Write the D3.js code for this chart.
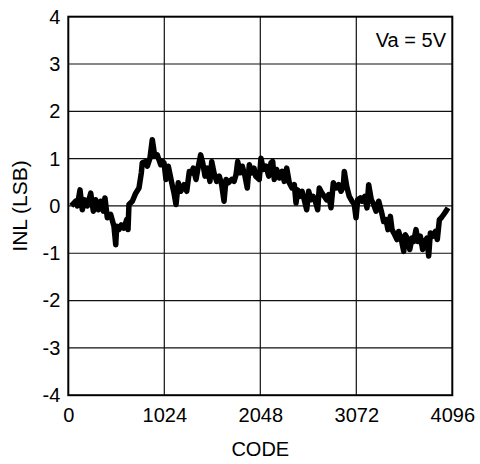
<!DOCTYPE html>
<html>
<head>
<meta charset="utf-8">
<script src="https://cdn.jsdelivr.net/npm/d3@7"></script>
<style>
  body { margin: 0; background: #fff; }
  text { font-family: Arial, "Liberation Sans", sans-serif; fill: #000; }
</style>
</head>
<body>
<svg id="chart" width="480" height="464"></svg>
<script>
/* Data */
var codes = [32, 79, 96, 125, 149, 175, 203, 239, 267, 292, 320, 346, 373, 391, 416, 452, 487, 506, 516, 541,
  565, 594, 623, 637, 647, 683, 719, 754, 779, 789, 826, 843, 871, 896, 922, 949, 986, 1003, 1021, 1042,
  1067, 1103, 1128, 1149, 1173, 1199, 1234, 1263, 1291, 1316, 1333, 1362, 1387, 1412, 1434, 1458, 1483, 1511, 1530, 1554,
  1583, 1611, 1636, 1661, 1682, 1707, 1743, 1768, 1789, 1807, 1832, 1856, 1885, 1909, 1931, 1956, 1981, 1999, 2037, 2055,
  2080, 2109, 2138, 2162, 2180, 2197, 2223, 2251, 2280, 2304, 2330, 2357, 2386, 2411, 2429, 2447, 2464, 2493, 2517, 2543,
  2564, 2589, 2613, 2635, 2660, 2677, 2706, 2731, 2756, 2778, 2802, 2827, 2856, 2884, 2909, 2933, 2944, 2970, 2997, 3026,
  3051, 3069, 3087, 3115, 3133, 3162, 3186, 3204, 3232, 3258, 3282, 3311, 3339, 3364, 3389, 3410, 3435, 3453, 3482, 3506,
  3524, 3552, 3578, 3595, 3624, 3642, 3666, 3684, 3709, 3730, 3755, 3780, 3802, 3826, 3844, 3862, 3887, 3915, 3936, 3958,
  3979, 4004, 4029, 4050];
var inl = [0, 0.1, 0, 0.34, -0.08, 0.13, 0, 0.27, -0.11, 0.13, -0.08, 0.1, -0.11, 0.17, -0.25, -0.18, -0.43, -0.82, -0.43, -0.5,
  -0.4, -0.47, -0.29, -0.5, 0.03, 0.1, 0.27, 0.38, 0.7, 0.91, 0.94, 0.84, 1.01, 1.4, 1.05, 1.08, 0.87, 0.94, 0.91, 0.56,
  0.84, 0.49, 0.27, 0.03, 0.49, 0.31, 0.45, 0.31, 0.73, 0.7, 0.8, 0.56, 0.84, 1.08, 0.91, 0.63, 0.8, 0.52, 0.94, 0.7,
  0.52, 0.63, 0.45, 0.1, 0.56, 0.49, 0.56, 0.52, 0.66, 0.94, 0.7, 0.84, 0.63, 0.38, 0.87, 0.7, 0.8, 0.63, 0.56, 1.01,
  0.77, 0.84, 0.63, 0.91, 0.94, 0.56, 0.77, 0.59, 0.73, 0.52, 0.8, 0.49, 0.38, 0.45, 0.06, 0.34, 0.2, 0.31, 0.13, -0.08,
  0.31, 0.13, 0.2, 0.1, -0.08, 0.38, 0.27, 0.2, 0.13, 0.24, -0.04, 0.49, 0.38, 0.45, 0.31, 0.41, 0.73, 0.41, 0.2, 0.1,
  0.03, -0.25, 0.13, 0.17, 0.1, 0.2, -0.04, 0.45, 0.13, 0.03, -0.11, 0.1, -0.11, -0.33, -0.29, -0.5, -0.22, -0.5, -0.61, -0.71,
  -0.54, -0.71, -0.96, -0.61, -0.71, -0.92, -0.68, -0.75, -0.5, -0.75, -0.64, -0.92, -0.75, -0.68, -1.06, -0.57, -0.64, -0.54, -0.71, -0.29,
  -0.25, -0.18, -0.11, -0.04];
var xTicks = [0, 1024, 2048, 3072, 4096];
var yTicks = [-4, -3, -2, -1, 0, 1, 2, 3, 4];
var xTitle = "CODE";
var yTitle = "INL (LSB)";
var note = "Va = 5V";

var margin = {top: 16.7, left: 68.3},
    width = 384,
    height = 378.5;

var svg = d3.select("#chart");
var g = svg.append("g").attr("transform", "translate(" + margin.left + "," + margin.top + ")");

var x = d3.scaleLinear().domain([0, 4096]).range([0, width]);
var y = d3.scaleLinear().domain([-4, 4]).range([height, 0]);

//Grid lines
g.append("g").selectAll("line").data(xTicks.slice(1, -1)).enter().append("line")
  .attr("x1", function(d) { return x(d); }).attr("x2", function(d) { return x(d); })
  .attr("y1", 0).attr("y2", height)
  .attr("stroke", "#111").attr("stroke-width", 1.2);
g.append("g").selectAll("line").data(yTicks.slice(1, -1)).enter().append("line")
  .attr("y1", function(d) { return y(d); }).attr("y2", function(d) { return y(d); })
  .attr("x1", 0).attr("x2", width)
  .attr("stroke", "#111").attr("stroke-width", 1.2);

//Axes, labels only (plain hyphen for negatives, like the original)
var plain = function(d) { return String(d); };
var xAxis = g.append("g").attr("transform", "translate(0," + height + ")")
  .call(d3.axisBottom(x).tickValues(xTicks).tickSize(0).tickPadding(10).tickFormat(plain));
var yAxis = g.append("g")
  .call(d3.axisLeft(y).tickValues(yTicks).tickSize(0).tickPadding(8).tickFormat(plain));
xAxis.select(".domain").remove();
yAxis.select(".domain").remove();
g.selectAll(".tick text").style("font-size", "20px").style("font-family", "Arial, 'Liberation Sans', sans-serif").attr("fill", "#000");
xAxis.selectAll(".tick text").attr("dy", 0).attr("y", 27);

//The INL curve
var line = d3.line()
  .x(function(d, i) { return x(codes[i]); })
  .y(function(d) { return y(d); });
g.append("path").datum(inl)
  .attr("d", line)
  .attr("fill", "none")
  .attr("stroke", "#000")
  .attr("stroke-width", 5.5)
  .attr("stroke-linejoin", "round");

//Border
g.append("rect").attr("width", width).attr("height", height)
  .attr("fill", "none").attr("stroke", "#000").attr("stroke-width", 2);

//Titles
svg.append("text").attr("x", margin.left + width / 2).attr("y", 456)
  .attr("text-anchor", "middle").style("font-size", "20px").text(xTitle);
svg.append("text").attr("transform", "translate(27," + (margin.top + height / 2) + ") rotate(-90)")
  .attr("text-anchor", "middle").style("font-size", "21px").text(yTitle);
svg.append("text").attr("x", 446).attr("y", 46.5)
  .attr("text-anchor", "end").style("font-size", "20px").text(note);
</script>
</body>
</html>
